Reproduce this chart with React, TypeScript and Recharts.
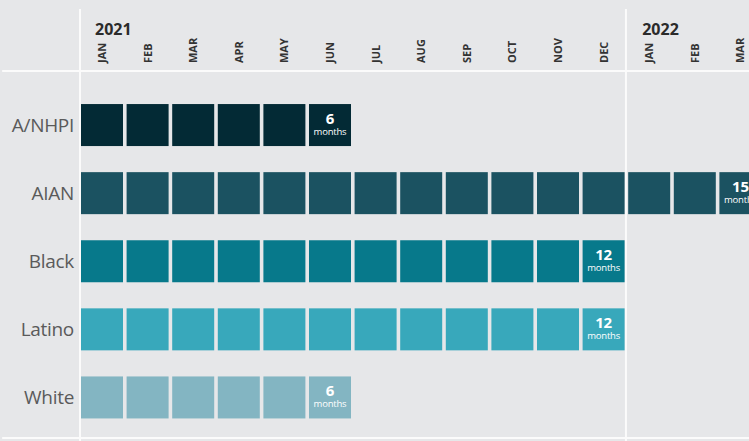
import React from "react";
import { ScatterChart, Scatter, XAxis, YAxis, ReferenceLine } from "recharts";

const groups = ["A/NHPI", "AIAN", "Black", "Latino", "White"];
const monthsCount = [6, 15, 12, 12, 6];
const groupColors = ["#032a35", "#1b5261", "#07798b", "#38a8bb", "#83b5c2"];
const monthLabels = ["JAN", "FEB", "MAR", "APR", "MAY", "JUN", "JUL", "AUG", "SEP", "OCT", "NOV", "DEC", "JAN", "FEB", "MAR"];
const yearLabels: { [k: number]: string } = { 0: "2021", 12: "2022" };
const monthTicks = monthLabels.map((_, i) => i);
const rowTicks = groups.map((_, i) => i);

const seriesData = groups.map((g, gi) =>
  Array.from({ length: monthsCount[gi] }, (_, m) => ({
    month: m,
    row: gi,
    group: g,
    last: m === monthsCount[gi] - 1,
    count: monthsCount[gi],
  }))
);

const FONT = "'Open Sans', 'Noto Sans', sans-serif";
const BG = "#e6e7e9";
const SQ = 42;

const SquareShape = (props: any) => {
  const { cx, cy, fill, payload } = props;
  if (cx == null || cy == null) return null;
  return (
    <g>
      <rect x={cx - SQ / 2} y={cy - SQ / 2} width={SQ} height={SQ} fill={fill} />
      {payload && payload.last ? (
        <g fontFamily={FONT} fill="#ffffff" textAnchor="middle">
          <text x={cx} y={cy - 1} fontSize={15} fontWeight={700} letterSpacing={-0.3}>
            {payload.count}
          </text>
          <text x={cx} y={cy + 9.5} fontSize={9.5} letterSpacing={-0.2}>
            months
          </text>
        </g>
      ) : null}
    </g>
  );
};

const MonthTick = (props: any) => {
  const { x, y, payload } = props;
  const i = payload.value as number;
  return (
    <g>
      {yearLabels[i] ? (
        <text x={x - 7} y={y - 56} fontFamily={FONT} fontSize={16} fontWeight={700} fill="#2b2b2b">
          {yearLabels[i]}
        </text>
      ) : null}
      <text
        x={x + 4}
        y={y - 28}
        transform={`rotate(-90 ${x + 4} ${y - 28})`}
        fontFamily={FONT}
        fontSize={11}
        fontWeight={700}
        fill="#333333"
        textAnchor="start"
      >
        {monthLabels[i]}
      </text>
    </g>
  );
};

const RowTick = (props: any) => {
  const { y, payload } = props;
  return (
    <text x={74} y={y + 7} fontFamily={FONT} fontSize={19} fill="#5a5a5a" textAnchor="end" letterSpacing={-0.3}>
      {groups[payload.value as number]}
    </text>
  );
};

export default function App() {
  return (
    <div
      style={{
        position: "absolute",
        left: 0,
        top: 0,
        width: 749,
        height: 441,
        overflow: "hidden",
        background: BG,
      }}
    >
      <ScatterChart width={770} height={441} margin={{ top: 0, right: 6.8, bottom: 9.5, left: 0 }}>
        <XAxis
          type="number"
          dataKey="month"
          orientation="top"
          domain={[-0.5, 14.5]}
          ticks={monthTicks}
          height={91}
          axisLine={false}
          tickLine={false}
          tickSize={0}
          tickMargin={0}
          tick={<MonthTick />}
          interval={0}
          allowDataOverflow
        />
        <YAxis
          type="number"
          dataKey="row"
          domain={[-0.5, 4.5]}
          reversed
          ticks={rowTicks}
          width={79.2}
          axisLine={false}
          tickLine={false}
          tickSize={0}
          tickMargin={0}
          tick={<RowTick />}
          interval={0}
          allowDataOverflow
        />
        <ReferenceLine
          segment={[{ x: -2.19, y: -0.794 }, { x: 15, y: -0.794 }]}
          stroke="#fbfbfb"
          strokeWidth={2}
          ifOverflow="visible"
        />
        <ReferenceLine
          segment={[{ x: -2.19, y: 4.595 }, { x: 15, y: 4.595 }]}
          stroke="#fbfbfb"
          strokeWidth={2}
          ifOverflow="visible"
        />
        <ReferenceLine
          segment={[{ x: -0.482, y: -1.704 }, { x: -0.482, y: 4.7 }]}
          stroke="#fbfbfb"
          strokeWidth={2}
          ifOverflow="visible"
        />
        <ReferenceLine
          segment={[{ x: 11.49, y: -1.704 }, { x: 11.49, y: 4.7 }]}
          stroke="#fbfbfb"
          strokeWidth={2}
          ifOverflow="visible"
        />
        {seriesData.map((d, gi) => (
          <Scatter
            key={groups[gi]}
            name={groups[gi]}
            data={d}
            fill={groupColors[gi]}
            shape={<SquareShape />}
            isAnimationActive={false}
          />
        ))}
      </ScatterChart>
    </div>
  );
}
